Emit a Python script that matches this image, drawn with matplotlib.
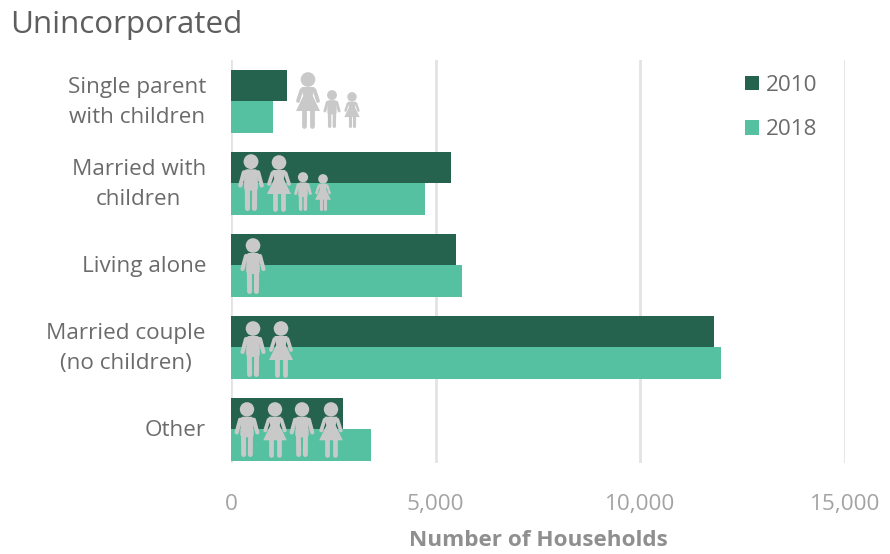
import matplotlib
matplotlib.use("Agg")
import matplotlib.pyplot as plt
from matplotlib.lines import Line2D
from matplotlib.patches import Circle, Polygon, FancyBboxPatch
from matplotlib.transforms import Affine2D, ScaledTranslation

plt.rcParams['font.family'] = ['Open Sans', 'DejaVu Sans']

categories = ["Single parent\nwith children", "Married with\nchildren", "Living alone",
              "Married couple\n(no children)", "Other"]
values_2010 = [1370, 5375, 5500, 11800, 2735]
values_2018 = [1025, 4740, 5640, 11970, 3420]
x_ticks = [0, 5000, 10000, 15000]
x_labels = ["0", "5,000", "10,000", "15,000"]

dark = "#25634f"
light = "#55c1a0"
icon_grey = "#c9c9c9"

W, H = 890, 554
fig = plt.figure(figsize=(W / 100, H / 100), dpi=100)
ax = fig.add_axes([231 / W, 1 - 463 / H, 614 / W, 403 / H])

pos = list(range(len(categories)))
bar_h = 0.384
ax.barh([p - bar_h / 2 for p in pos], values_2010, height=bar_h, color=dark, label="2010", zorder=2)
ax.barh([p + bar_h / 2 for p in pos], values_2018, height=bar_h, color=light, label="2018", zorder=2)

ax.set_xlim(0, 15000)
ax.set_ylim(4.41, -0.506)
ax.set_xticks(x_ticks)
ax.set_xticklabels(x_labels, fontsize=16.2, color="#a3a3a3")
ax.set_yticks(pos)
ax.set_yticklabels(categories, fontsize=16.2, color="#6b6b6b", linespacing=1.58, ha="right", multialignment="center")
ax.tick_params(axis="y", length=0, pad=18)
ax.tick_params(axis="x", length=0, pad=22)
ax.grid(axis="x", color="#e3e3e3", linewidth=2, zorder=1)
ax.set_axisbelow(True)
for s in ax.spines.values():
    s.set_visible(False)

# two line labels sit a bit higher than the bar centre
for lab in ax.get_yticklabels():
    up = 6 if "\n" in lab.get_text() else 1
    lab.set_transform(lab.get_transform() + ScaledTranslation(0, up / 100, fig.dpi_scale_trans))

ax.set_xlabel("Number of Households", fontsize=16.2, fontweight="bold", color="#8f8f8f")
ax.xaxis.set_label_coords((538 - 231) / 614, -(540 - 463) / 403, transform=ax.transAxes)
ax.xaxis.label.set_va("center")

fig.text(10 / W, 1 - 25 / H, "Unincorporated", fontsize=22.6, color="#5e5e5e", va="center", ha="left")

leg = ax.legend(loc="upper left", bbox_to_anchor=((727 - 231) / 614, 1 + (3 / 403)), frameon=False,
                fontsize=16.2, labelcolor="#6b6b6b", handlelength=0.62, handleheight=0.62,
                handletextpad=0.32, labelspacing=1.03, borderpad=0.3)

# pictogram people, placed in picture pixels
px = Affine2D().scale(1, -1).translate(0, H)


def limb(x0, y0, x1, y1, w):
    return Line2D([x0, x1], [y0, y1], linewidth=w * 0.72, color=icon_grey, solid_capstyle="round",
                  transform=px, zorder=5)


def person(cx, top, bottom, kind):
    s = (bottom - top) / 56.0
    parts = [Circle((cx, top + 7.5 * s), 7.3 * s)]
    if kind == "man":
        parts.append(FancyBboxPatch((cx - 6.8 * s, top + 15 * s), 13.6 * s, 21 * s,
                                    boxstyle="round,pad=0,rounding_size=%f" % (3 * s)))
        parts.append(limb(cx - 7 * s, top + 18 * s, cx - 10.5 * s, top + 31 * s, 4.2 * s))
        parts.append(limb(cx + 7 * s, top + 18 * s, cx + 10.5 * s, top + 31 * s, 4.2 * s))
        parts.append(limb(cx - 3.6 * s, top + 34 * s, cx - 3.4 * s, bottom - 2.5 * s, 5 * s))
        parts.append(limb(cx + 3.6 * s, top + 34 * s, cx + 3.4 * s, bottom - 2.5 * s, 5 * s))
    else:
        parts.append(Polygon([(cx - 6.5 * s, top + 15 * s), (cx + 6.5 * s, top + 15 * s), (cx + 4.8 * s, top + 24 * s),
                              (cx + 12 * s, top + 39 * s), (cx - 12 * s, top + 39 * s), (cx - 4.8 * s, top + 24 * s)]))
        parts.append(limb(cx - 6.5 * s, top + 18 * s, cx - 10 * s, top + 29 * s, 3.8 * s))
        parts.append(limb(cx + 6.5 * s, top + 18 * s, cx + 10 * s, top + 29 * s, 3.8 * s))
        parts.append(limb(cx - 3.6 * s, top + 38 * s, cx - 3.6 * s, bottom - 2.5 * s, 4.8 * s))
        parts.append(limb(cx + 3.6 * s, top + 38 * s, cx + 3.6 * s, bottom - 2.5 * s, 4.8 * s))
    for p in parts:
        if not isinstance(p, Line2D):
            p.set_facecolor(icon_grey)
            p.set_edgecolor("none")
            p.set_transform(px)
            p.set_zorder(5)
        fig.add_artist(p)


icons = [(308, 72, 128, "woman"), (332, 90, 128, "man"), (352, 92, 128, "woman"),
         (251, 154, 211, "man"), (279, 155, 211, "woman"), (303, 172, 211, "man"), (323, 174, 211, "woman"),
         (253, 238, 294, "man"),
         (253, 321, 377, "man"), (281, 321, 377, "woman"),
         (247, 402, 457, "man"), (275, 402, 457, "woman"), (302, 402, 457, "man"), (331, 402, 457, "woman")]
for cx, top, bottom, kind in icons:
    person(cx, top, bottom, kind)

fig.savefig("out.png", dpi=100)
